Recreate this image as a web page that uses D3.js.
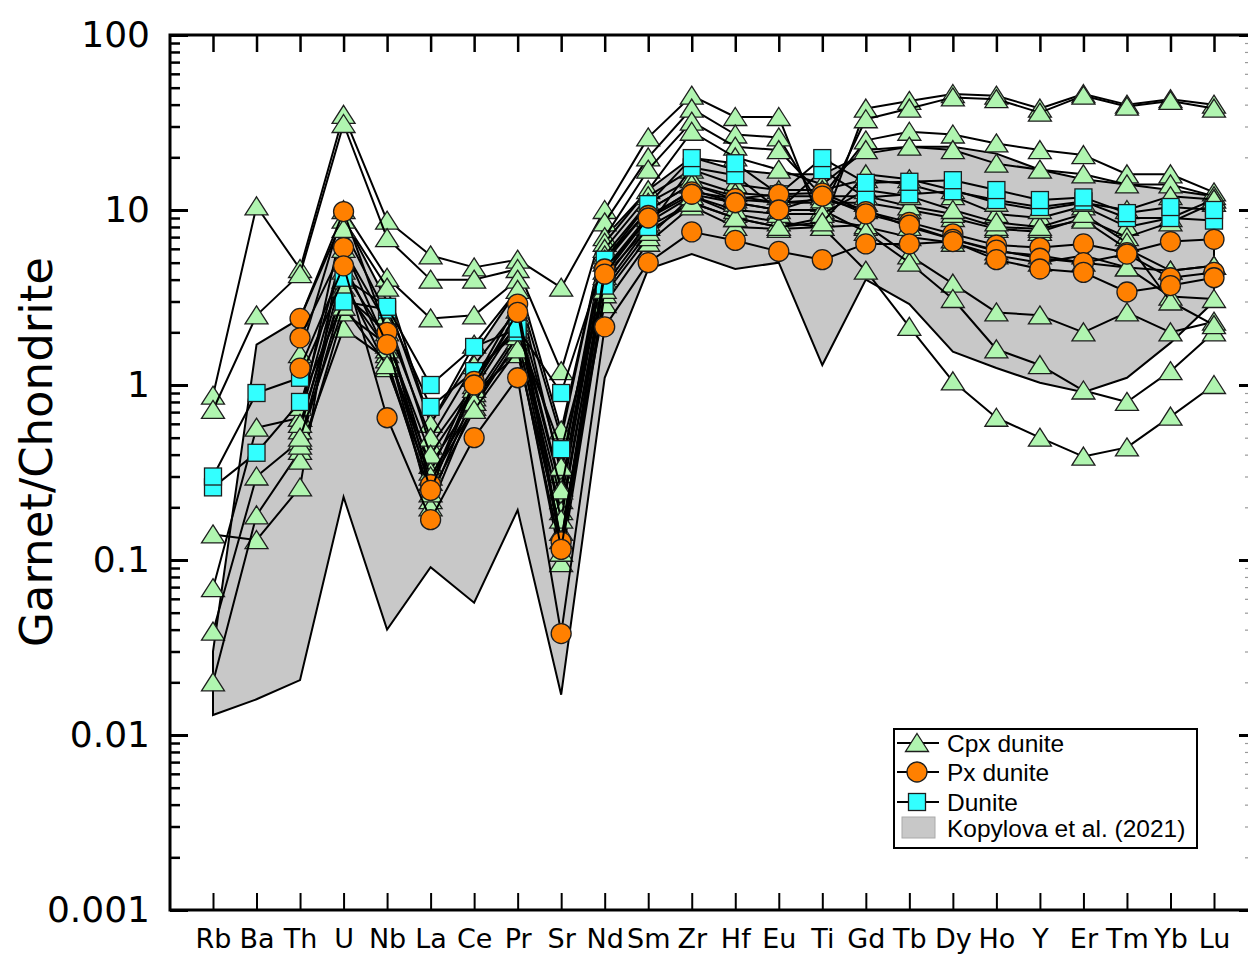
<!DOCTYPE html>
<html>
<head>
<meta charset="utf-8">
<script src="https://cdn.jsdelivr.net/npm/d3@7"></script>
<style>
  html, body { margin: 0; padding: 0; background: #fff; }
  svg { display: block; }
</style>
</head>
<body>
<svg id="chart" width="1248" height="956"></svg>
<script>
// Trace elements, in plotting order
const elements = ["Rb","Ba","Th","U","Nb","La","Ce","Pr","Sr","Nd","Sm","Zr","Hf","Eu","Ti","Gd","Tb","Dy","Ho","Y","Er","Tm","Yb","Lu"];
const yTicks = [0.001, 0.01, 0.1, 1, 10, 100];
const yTickLabels = ["0.001", "0.01", "0.1", "1", "10", "100"];

// Kopylova et al. (2021) field: upper and lower envelope
const fieldUpper = [0.03, 1.7, 2.4, 9, 3.0, 0.6, 1.5, 3.5, 0.5, 7, 13, 20, 17, 16, 16, 21, 23, 23, 21, 17, 15, 14, 13, 12];
const fieldLower = [0.013, 0.016, 0.0206, 0.229, 0.04, 0.091, 0.057, 0.193, 0.017, 1.1, 4.6, 5.6, 4.6, 5.0, 1.3, 4.0, 2.9, 1.55, 1.25, 1.03, 0.91, 1.1, 1.74, 3.0];

// Cpx dunite garnets
const cpx1  = [0.87, 10.5, 4.6, 35, 8.7, 5.5, 4.7, 5.2, 3.6, 10, 26, 45, 34, 34, 8, 38, 42, 46, 45, 38, 46, 40, 43, 40];
const cpx2  = [0.72, 2.5, 4.3, 31, 6.9, 4.0, 4.0, 4.6, 1.2, 8.5, 20, 38, 27, 26, 10, 33, 38, 44, 43, 36, 45, 39, 42, 38];
const cpx3  = [null, null, 1.5, 10, 4.1, 2.4, 2.5, 4.0, 0.55, 7.0, 17, 32, 23, 22, 12, 25, 28, 27, 24, 22, 20.6, 16, 16, 12.6];
const cpx4  = [null, null, 0.65, 8.8, 3.6, 0.6, 1.7, 3.5, 0.31, 6.5, 13, 28, 20, 17, 14, 22, 23, 22, 18.4, 17, 16, 14, 14, 12];
const cpx5  = [0.14, 0.13, 0.26, 7.8, 2.5, 0.45, 1.0, 2.5, 0.26, 6.0, 12, 17, 14, 13, 13, 15, 14, 12, 9.5, 9.0, 10.5, 8.0, 9.0, 11.5];
const cpx6  = [0.069, 0.57, 0.65, 5.0, 1.5, 0.35, 0.85, 2.0, 0.22, 5.0, 10, 14, 12, 11, 11, 11, 10, 9.0, 7.8, 7.5, 9.0, 7.0, 8.5, 11];
const cpx7  = [0.039, 0.3, 0.48, 4.0, 1.25, 0.28, 0.75, 1.8, 0.19, 4.2, 8.0, 11, 9.0, 8.0, 9.0, 8.0, 7.0, 6.5, 5.5, 5.0, 5.5, 4.7, 4.5, 4.8];
const cpx8  = [0.02, 0.18, 0.42, 2.1, 1.4, 0.22, 0.9, 1.5, 0.145, 2.9, 6.5, 10.5, 8.0, 7.8, 8.0, 8.2, 5.5, 3.8, 2.6, 2.5, 2.0, 2.6, 2.0, 2.3];
const cpx9  = [null, null, 0.37, 2.6, 1.7, 0.2, 0.8, 1.7, 0.096, 3.3, 7.0, 12, 9.5, 8.5, 8.0, 4.5, 2.15, 1.05, 0.65, 0.5, 0.39, 0.44, 0.66, 1.0];
const cpx10 = [null, null, 0.45, 3.3, 2.0, 0.32, 1.1, 2.2, 0.17, 4.5, 9.0, 13, 11, 10, 10, 7.5, 5.0, 3.1, 1.6, 1.3, 0.93, 0.8, 1.2, 2.0];
const cpx11 = [null, null, 0.75, 6.0, 2.2, 0.5, 1.3, 2.7, 0.34, 5.5, 11, 15, 12.5, 12, 12, 12, 10.5, 9.5, 8.0, 7.8, 8.8, 6.0, 4.5, 4.8];
const cpx12 = [null, null, 0.55, 4.5, 1.8, 0.4, 0.95, 2.3, 0.25, 5.2, 10, 14, 11.5, 11, 11.5, 10, 8.0, 6.8, 5.8, 5.5, 5.0, 4.7, 3.2, 3.1];
const cpx13 = [null, null, 0.6, 3.6, 1.6, 0.3, 0.8, 1.9, 0.13, 4.0, 8.5, 12, 10, 9.5, 9.5, 13, 12, 10, 8.5, 8.0, 9.5, 6.5, 3.0, 2.2];
const cpx14 = [null, null, 0.5, 2.8, 1.3, 0.24, 0.72, 1.6, 0.11, 3.5, 7.5, 11, 9.0, 8.0, 8.5, 16, 15, 13, 11, 10, 11, 10, 12, 11.5];

// Px dunite garnets
const px1 = [null, null, 2.4, 9.8, 2.0, 0.27, 1.05, 2.9, 0.127, 4.6, 9.3, 12.7, 11.6, 12.3, 12.5, 9.8, 8.5, 7.3, 6.3, 6.1, 6.4, 5.7, 6.6, 6.8];
const px2 = [null, null, 1.86, 6.1, 1.7, 0.25, 1.0, 2.6, 0.115, 4.3, 9.0, 12.3, 11.0, 10.0, 12.0, 9.5, 8.2, 6.8, 5.9, 5.3, 5.0, 5.6, 4.1, 4.4];
const px3 = [null, null, 1.25, 4.8, 0.65, 0.17, 0.5, 1.1, 0.038, 2.15, 5.0, 7.5, 6.7, 5.8, 5.2, 6.4, 6.4, 6.6, 5.2, 4.6, 4.4, 3.4, 3.7, 4.1];

// Dunite garnets
const dun1 = [0.26, 0.41, 0.8, 3.0, 2.7, 0.75, 1.2, 2.0, 0.43, 3.7, 8.0, 17.5, 15.8, 10.0, 16.9, 11.8, 12.3, 12.8, 11.4, 10.4, 11.2, 9.0, 9.0, 8.7];
const dun2 = [0.3, 0.9, 1.1, 4.1, 2.8, 1.0, 1.65, 2.1, 0.9, 5.2, 10.8, 19.8, 18.5, 12.3, 19.8, 14.3, 14.5, 14.8, 13, 11.4, 11.8, 9.6, 10.4, 10];

const cpxSeries = [cpx1, cpx2, cpx3, cpx4, cpx5, cpx6, cpx7, cpx8, cpx9, cpx10, cpx11, cpx12, cpx13, cpx14];
const pxSeries = [px1, px2, px3];
const dunSeries = [dun1, dun2];

const svg = d3.select("#chart");
const plotLeft = 170, plotRight = 1250, plotTop = 35, plotBottom = 910;

const x = d3.scalePoint().domain(elements).range([213, 1214]);
const y = d3.scaleLog().domain([0.001, 100]).range([plotBottom, plotTop]);

const tickFont = "'DejaVu Sans', Verdana, sans-serif";
const legendFont = "'Liberation Sans', Arial, sans-serif";

// Shaded field
const fieldPts = elements.map((e, i) => [x(e), y(fieldUpper[i])])
  .concat(elements.map((e, i) => [x(e), y(fieldLower[i])]).reverse());
svg.append("path")
  .attr("d", d3.line()(fieldPts) + "Z")
  .attr("fill", "#c8c8c8")
  .attr("stroke", "#000")
  .attr("stroke-width", 2)
  .attr("stroke-linejoin", "miter");

// Marker shapes
const triPath = "M0,-9.5L11.5,8.5L-11.5,8.5Z";
const styles = {
  cpx: { fill: "#b0f5b0", draw: g => g.append("path").attr("d", triPath) },
  px:  { fill: "#ff8000", draw: g => g.append("circle").attr("r", 10) },
  dun: { fill: "#33ffff", draw: g => g.append("rect").attr("x", -8.5).attr("y", -8.5).attr("width", 17).attr("height", 17) }
};

const line = d3.line()
  .defined(d => d.v != null)
  .x(d => x(d.e))
  .y(d => y(d.v));

function drawSeries(values, kind) {
  const pts = elements.map((e, i) => ({ e, v: values[i] }));
  const g = svg.append("g");
  g.append("path")
    .attr("d", line(pts))
    .attr("fill", "none")
    .attr("stroke", "#000")
    .attr("stroke-width", 2)
    .attr("stroke-linejoin", "round");
  pts.filter(d => d.v != null).forEach(d => {
    const m = g.append("g").attr("transform", `translate(${x(d.e)},${y(d.v)})`);
    styles[kind].draw(m)
      .attr("fill", styles[kind].fill)
      .attr("stroke", "#1e1e1e")
      .attr("stroke-width", 1.3);
  });
}

cpxSeries.forEach(s => drawSeries(s, "cpx"));
dunSeries.forEach(s => drawSeries(s, "dun"));
pxSeries.forEach(s => drawSeries(s, "px"));

// Minor tick values for the log axis
const minorTicks = [];
for (let p = -3; p < 2; p++) for (let k = 2; k <= 9; k++) minorTicks.push(k * Math.pow(10, p));

// Left axis: inward ticks, labelled decades
const leftAxis = svg.append("g").attr("transform", `translate(${plotLeft},0)`)
  .call(d3.axisLeft(y).tickValues(yTicks).tickSize(-18).tickSizeOuter(0).tickPadding(20)
    .tickFormat((d, i) => yTickLabels[i]));
leftAxis.select(".domain").remove();
leftAxis.selectAll("line").attr("stroke-width", 3);
leftAxis.selectAll("text").attr("font-family", tickFont).attr("font-size", 36).attr("fill", "#000");

const leftMinor = svg.append("g").attr("transform", `translate(${plotLeft},0)`)
  .call(d3.axisLeft(y).tickValues(minorTicks).tickSize(-10).tickSizeOuter(0).tickFormat(""));
leftMinor.select(".domain").remove();
leftMinor.selectAll("line").attr("stroke-width", 2.5);

// Right axis (mirror ticks)
const rightAxis = svg.append("g").attr("transform", `translate(${plotRight},0)`)
  .call(d3.axisRight(y).tickValues(yTicks).tickSize(-11).tickSizeOuter(0).tickFormat(""));
rightAxis.select(".domain").remove();
rightAxis.selectAll("line").attr("stroke-width", 3);
const rightMinor = svg.append("g").attr("transform", `translate(${plotRight},0)`)
  .call(d3.axisRight(y).tickValues(minorTicks).tickSize(-5).tickSizeOuter(0).tickFormat(""));
rightMinor.select(".domain").remove();
rightMinor.selectAll("line").attr("stroke-width", 1.2).attr("stroke", "#999");

// Bottom axis with element names
const bottomAxis = svg.append("g").attr("transform", `translate(0,${plotBottom})`)
  .call(d3.axisBottom(x).tickSize(-17).tickSizeOuter(0).tickPadding(19));
bottomAxis.select(".domain").remove();
bottomAxis.selectAll("line").attr("stroke-width", 2);
bottomAxis.selectAll("text").attr("font-family", tickFont).attr("font-size", 27).attr("fill", "#000");

// Top axis, ticks only
const topAxis = svg.append("g").attr("transform", `translate(0,${plotTop})`)
  .call(d3.axisTop(x).tickSize(-17).tickSizeOuter(0).tickFormat(""));
topAxis.select(".domain").remove();
topAxis.selectAll("line").attr("stroke-width", 2.5);

// Plot frame
svg.append("rect")
  .attr("x", plotLeft).attr("y", plotTop)
  .attr("width", plotRight - plotLeft).attr("height", plotBottom - plotTop)
  .attr("fill", "none").attr("stroke", "#000").attr("stroke-width", 3);

// Y axis title
svg.append("text")
  .attr("transform", `translate(52,452) rotate(-90)`)
  .attr("text-anchor", "middle")
  .attr("font-family", tickFont)
  .attr("font-size", 45)
  .text("Garnet/Chondrite");

// Legend
const legend = svg.append("g").attr("transform", "translate(894,729)");
legend.append("rect").attr("width", 303).attr("height", 119)
  .attr("fill", "#fff").attr("stroke", "#000").attr("stroke-width", 2);
const legendItems = [
  { label: "Cpx dunite", kind: "cpx", cy: 14 },
  { label: "Px dunite", kind: "px", cy: 43 },
  { label: "Dunite", kind: "dun", cy: 73 }
];
legendItems.forEach(it => {
  legend.append("line").attr("x1", 3).attr("x2", 45).attr("y1", it.cy).attr("y2", it.cy)
    .attr("stroke", "#000").attr("stroke-width", 2);
  const m = legend.append("g").attr("transform", `translate(23,${it.cy})`);
  styles[it.kind].draw(m).attr("fill", styles[it.kind].fill).attr("stroke", "#1e1e1e").attr("stroke-width", 1.3);
  legend.append("text").attr("x", 53).attr("y", it.cy).attr("dy", "0.36em")
    .attr("font-family", legendFont).attr("font-size", 24.5).text(it.label);
});
legend.append("rect").attr("x", 8).attr("y", 88).attr("width", 33).attr("height", 21)
  .attr("fill", "#c8c8c8").attr("stroke", "#aaa").attr("stroke-width", 1);
legend.append("text").attr("x", 53).attr("y", 99).attr("dy", "0.36em")
  .attr("font-family", legendFont).attr("font-size", 24.5)
  .text("Kopylova et al. (2021)");
</script>
</body>
</html>
